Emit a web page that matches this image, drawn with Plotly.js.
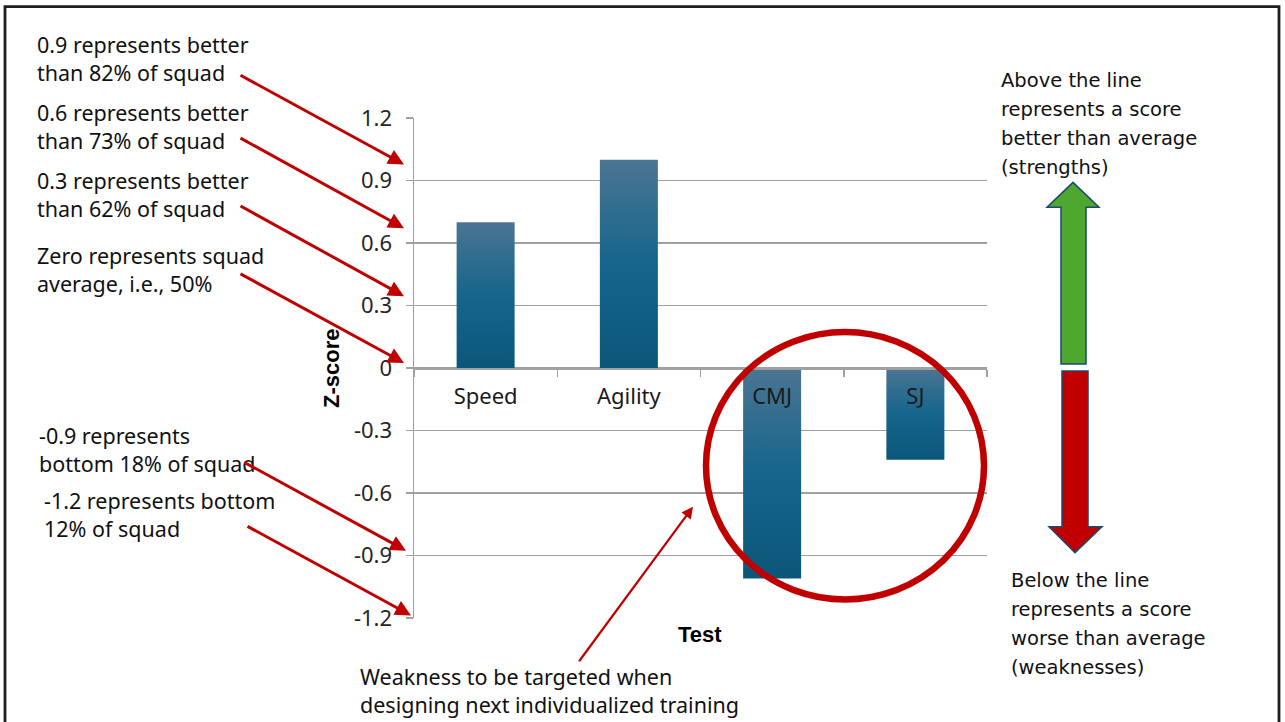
<!DOCTYPE html>
<html>
<head>
<meta charset="utf-8">
<script src="https://cdn.plot.ly/plotly-3.0.1.min.js"></script>
<style>
html,body{margin:0;padding:0;background:#fff;overflow:hidden;}
#chart{width:1285px;height:722px;}
</style>
</head>
<body>
<div id="chart"></div>
<script>
// ---- data ----
const categories = ['Speed', 'Agility', 'CMJ', 'SJ'];
const zScores = [0.70, 1.00, -1.01, -0.44];
const yTickVals = [-1.2, -0.9, -0.6, -0.3, 0, 0.3, 0.6, 0.9, 1.2];
const yTickText = ['-1.2', '-0.9', '-0.6', '-0.3', '0', '0.3', '0.6', '0.9', '1.2'];
const xTitle = 'Test';
const yTitle = 'Z-score';

const leftNotes = [
  ['0.9 represents better', 'than 82% of squad'],
  ['0.6 represents better', 'than 73% of squad'],
  ['0.3 represents better', 'than 62% of squad'],
  ['Zero represents squad', 'average, i.e., 50%'],
  ['-0.9 represents', 'bottom 18% of squad'],
  ['-1.2 represents bottom', '12% of squad']
];
const upperNote = ['Above the line', 'represents a score', 'better than average', '(strengths)'];
const lowerNote = ['Below the line', 'represents a score', 'worse than average', '(weaknesses)'];
const weaknessNote = ['Weakness to be targeted when', 'designing next individualized training'];

// ---- layout geometry (pixels) ----
const L = 414, T = 117.5, W = 573, H = 501;
const px = x => (x - L) / W;
const py = y => (T + H - y) / H;

const noteFont = {family: 'Noto Sans, Open Sans, sans-serif', size: 21.5, color: '#111111'};
const sideFont = {family: 'DejaVu Sans, Verdana, sans-serif', size: 19.5, color: '#111111'};

const annotations = [];
function addLines(lines, x, yStart, dy, font) {
  lines.forEach((t, i) => {
    annotations.push({
      x: px(x), y: py(yStart + i * dy), xref: 'paper', yref: 'paper',
      xanchor: 'left', yanchor: 'middle', text: t, showarrow: false, font: font
    });
  });
}
const leftPos = [[35, 44], [35, 112], [35, 180], [35, 255], [37, 436], [42, 501]];
leftNotes.forEach((n, i) => addLines(n, leftPos[i][0], leftPos[i][1], 28, noteFont));
addLines(upperNote, 999, 80, 29, sideFont);
addLines(lowerNote, 1009, 581, 29, sideFont);
addLines(weaknessNote, 358, 677, 28, noteFont);

function addArrow(tx, ty, hx, hy, w) {
  annotations.push({
    x: px(hx), y: py(hy), xref: 'paper', yref: 'paper',
    ax: tx - hx, ay: ty - hy, axref: 'pixel', ayref: 'pixel',
    text: '', showarrow: true, arrowhead: 2, arrowsize: 1.05, arrowwidth: w,
    arrowcolor: '#c00000', standoff: 0, startstandoff: 0
  });
}
addArrow(239, 74, 404, 164, 3);
addArrow(239, 137, 404, 228, 3);
addArrow(239, 205, 404, 296, 3);
addArrow(239, 273, 404, 363, 3);
addArrow(243, 462, 406, 551, 3);
addArrow(246, 526, 411, 616, 3);
addArrow(578, 663, 693, 507, 2.2);

// axis titles
annotations.push({x: px(700), y: py(635), xref: 'paper', yref: 'paper', text: '<b>' + xTitle + '</b>',
  showarrow: false, xanchor: 'center', yanchor: 'middle',
  font: {family: 'Liberation Sans, Arial, sans-serif', size: 22, color: '#000'}});
annotations.push({x: px(332), y: py(369), xref: 'paper', yref: 'paper', text: '<b>' + yTitle + '</b>',
  showarrow: false, xanchor: 'center', yanchor: 'middle', textangle: -90,
  font: {family: 'Liberation Sans, Arial, sans-serif', size: 22, color: '#000'}});

function pathOf(pts) {
  return 'M ' + pts.map(p => px(p[0]).toFixed(5) + ' ' + py(p[1]).toFixed(5)).join(' L ') + ' Z';
}
const shapes = [
  // outer frame
  {type: 'rect', xref: 'paper', yref: 'paper', x0: px(5), x1: px(1279), y0: py(730), y1: py(6),
   line: {color: '#1f1f1f', width: 2.8}, fillcolor: 'rgba(0,0,0,0)', layer: 'below'},
  // highlight ellipse
  {type: 'circle', xref: 'paper', yref: 'paper', x0: px(706), x1: px(984), y0: py(600), y1: py(332),
   line: {color: '#c00000', width: 6.5}},
  // green up arrow
  {type: 'path', xref: 'paper', yref: 'paper',
   path: pathOf([[1073, 182], [1099, 207], [1086, 207], [1086, 364], [1061, 364], [1061, 207], [1047, 207]]),
   fillcolor: '#4ea72e', line: {color: '#1b4a6b', width: 1.5}},
  // red down arrow
  {type: 'path', xref: 'paper', yref: 'paper',
   path: pathOf([[1062, 371], [1088, 371], [1088, 527], [1102, 527], [1075, 553], [1049, 527], [1062, 527]]),
   fillcolor: '#c00000', line: {color: '#1b4a6b', width: 1.5}}
];

const trace = {
  type: 'bar', x: categories, y: zScores,
  marker: {color: '#14648b', line: {width: 0}},
  hoverinfo: 'x+y'
};

const layout = {
  width: 1285, height: 722,
  margin: {l: L, r: 1285 - L - W, t: T, b: 722 - T - H, pad: 0},
  paper_bgcolor: '#ffffff', plot_bgcolor: '#ffffff',
  showlegend: false, bargap: 0.595,
  font: {family: 'Noto Sans, Open Sans, sans-serif', color: '#1a1a1a'},
  xaxis: {
    type: 'category', range: [-0.5, 3.5], anchor: 'free', position: 0.5,
    showline: true, linecolor: '#a0a0a0', linewidth: 1.5,
    ticks: 'outside', tickson: 'boundaries', ticklen: 7, tickcolor: '#a0a0a0', tickwidth: 1.5,
    showgrid: false, zeroline: false, ticklabelstandoff: 8,
    tickfont: {family: 'Noto Sans, Open Sans, sans-serif', size: 22, color: '#1a1a1a'}
  },
  yaxis: {
    range: [-1.2, 1.2], tickmode: 'array', tickvals: yTickVals, ticktext: yTickText,
    showgrid: true, gridcolor: '#a0a0a0', gridwidth: 1.5, zeroline: false,
    showline: true, linecolor: '#a0a0a0', linewidth: 1.5,
    ticks: 'outside', ticklen: 7, tickcolor: '#a0a0a0', tickwidth: 1.5,
    ticklabelstandoff: 9,
    tickfont: {family: 'Noto Sans, Open Sans, sans-serif', size: 22, color: '#262626'}
  },
  annotations: annotations,
  shapes: shapes
};

const gd = document.getElementById('chart');
Plotly.newPlot(gd, [trace], layout, {staticPlot: true, displayModeBar: false}).then(() => {
  const svg = gd.querySelector('svg.main-svg');
  const defs = svg.querySelector('defs');
  const ns = 'http://www.w3.org/2000/svg';
  const g = document.createElementNS(ns, 'linearGradient');
  g.setAttribute('id', 'barGrad');
  g.setAttribute('x1', '0'); g.setAttribute('y1', '0');
  g.setAttribute('x2', '0'); g.setAttribute('y2', '1');
  [['0', '#4b7592'], ['0.5', '#15658c'], ['1', '#0b577a']].forEach(s => {
    const st = document.createElementNS(ns, 'stop');
    st.setAttribute('offset', s[0]);
    st.setAttribute('stop-color', s[1]);
    g.appendChild(st);
  });
  defs.appendChild(g);
  gd.querySelectorAll('.barlayer .point path').forEach(p => { p.style.fill = 'url(#barGrad)'; });
});
</script>
</body>
</html>
